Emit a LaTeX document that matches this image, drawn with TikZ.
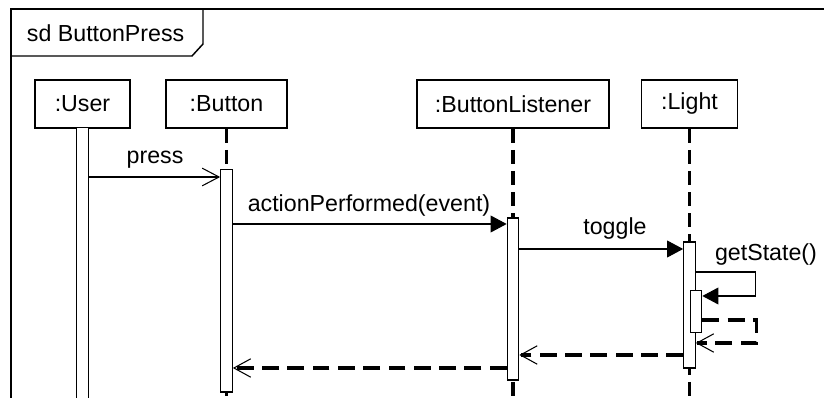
\documentclass[tikz,border=0pt]{standalone}
\usepackage{fontspec}
\setmainfont{Liberation Sans}
\usepackage{tikz}
\usetikzlibrary{arrows.meta}
\tikzstyle{every node}=[font=\fontsize{16.5}{19}\selectfont]
\tikzstyle{head}=[draw,line width=1.05pt,minimum height=1.2cm,inner sep=0pt]
\tikzstyle{bar}=[draw,fill=white,line width=0.75pt,minimum width=0.29cm,inner sep=0pt]
\tikzstyle{lifeline}=[line width=2.3pt,dash pattern=on 10pt off 5pt]
\tikzstyle{call}=[line width=0.75pt,-{Triangle[length=0.4cm,width=0.42cm]}]
\tikzstyle{send}=[line width=0.75pt,-{Straight Barb[length=0.42cm,width=0.44cm,line width=0.75pt 0]}]
\tikzstyle{reply}=[line width=2.3pt,dash pattern=on 12pt off 6pt,-{Straight Barb[length=0.42cm,width=0.46cm,line width=0.75pt 0]}]

\begin{document}
\begin{tikzpicture}[x=0.025cm,y=-0.025cm]
\clip (0,0) rectangle (824,398);
\fill[white] (0,0) rectangle (824,398);

% frame
\draw[line width=1.05pt] (840,9) -- (11,9) -- (11,420);
\draw[line width=1.05pt] (11,56) -- (192,56) -- (203,44) -- (203,9);
\node[anchor=base west] (title) at (22,42) {sd ButtonPress};

% heads
\node[head,minimum width=2.375cm] (user) at (82.5,104) {:User};
\node[head,minimum width=3.025cm] (button) at (226.5,104) {:Button};
\node[head,minimum width=4.8cm] (listener) at (513,104) {:ButtonListener};
\node[head,minimum width=2.4cm] (light) at (689.5,104) {:Light};

% lifelines
\draw[lifeline] (button.south) -- (226.5,410);
\draw[lifeline] (listener.south) -- (513,410);
\draw[lifeline] (light.south) -- (689.5,410);

% activations
\node[bar,minimum height=7.2cm] (ubar) at (82.5,272) {};
\node[bar,minimum height=5.55cm] (bbar) at (226.5,281) {};
\node[bar,minimum height=4.05cm] (lbar) at (513,299) {};
\node[bar,minimum height=3.15cm] (gbar) at (689.5,305) {};
\node[bar,minimum height=1.03cm] (sbar) at (696,311.5) {};

% messages
\draw[send] (ubar.east |- 0,177) -- (bbar.west |- 0,177);
\node[anchor=base] (press) at (155,164) {press};
\draw[call] (bbar.east |- 0,224) -- (lbar.west |- 0,224);
\node[anchor=base] (action) at (369,212) {actionPerformed(event)};
\draw[call] (lbar.east |- 0,249) -- (gbar.west |- 0,249);
\node[anchor=base] (toggle) at (615,235) {toggle};
\draw[call] (gbar.east |- 0,272) -- ++(60,0) |- (sbar.east |- 0,296);
\node[anchor=base] (getstate) at (766,261) {getState()};

% replies
\draw[reply] (sbar.east |- 0,320) -- ++(54,0) |- (gbar.east |- 0,343);
\draw[reply] (gbar.west |- 0,355) -- (lbar.east |- 0,355);
\draw[reply] (lbar.west |- 0,368) -- (bbar.east |- 0,368);
\end{tikzpicture}
\end{document}
